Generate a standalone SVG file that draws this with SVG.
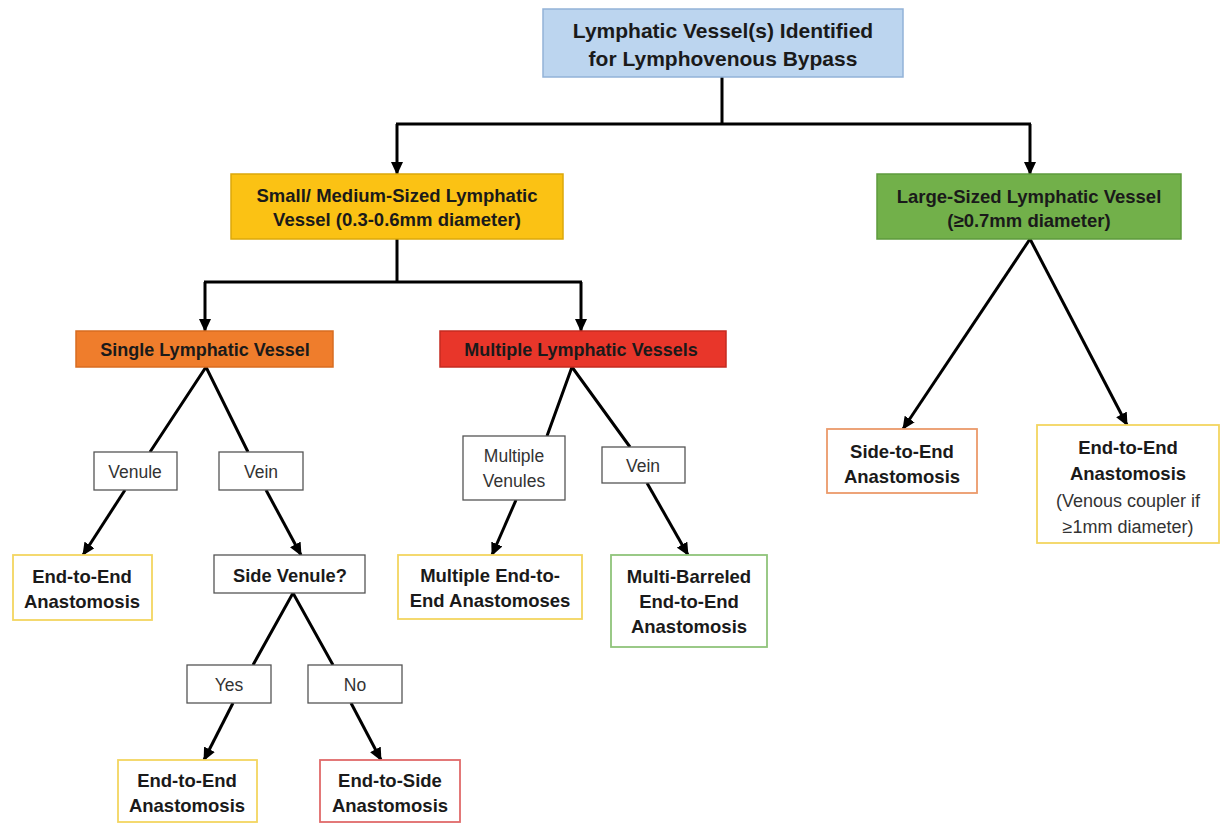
<svg xmlns="http://www.w3.org/2000/svg" width="1221" height="825" viewBox="0 0 1221 825">
<style>
text{font-family:"Liberation Sans",Arial,sans-serif;text-anchor:middle;fill:#1a1a1a}
.b{font-weight:bold}
.lbl{fill:#333}
.line{stroke:#000;stroke-width:3;fill:none}
.arr{marker-end:url(#ah)}
.lb{fill:#fff;stroke:#555;stroke-width:1.3}
</style>
<defs>
<marker id="ah" markerUnits="userSpaceOnUse" markerWidth="13" markerHeight="12" refX="12" refY="6" orient="auto">
<path d="M0,0 L13,6 L0,12 Z" fill="#000"/>
</marker>
</defs>
<rect width="1221" height="825" fill="#fff"/>
<g id="connectors">
<path class="line" d="M722,77 V124 M396,124 H1031"/>
<path class="line arr" d="M397,124 V174"/>
<path class="line arr" d="M1030,124 V174"/>
<path class="line" d="M397,239 V282 M204,282 H582"/>
<path class="line arr" d="M205,282 V331"/>
<path class="line arr" d="M581,282 V331"/>
<path class="line" d="M150,452 L206,367 L248,452"/>
<path class="line arr" d="M125,490 L83,555"/>
<path class="line arr" d="M266,490 L301,555"/>
<path class="line" d="M253,665 L293,593 L333,665"/>
<path class="line arr" d="M233,703 L204,760"/>
<path class="line arr" d="M351,703 L381,760"/>
<path class="line" d="M547,436 L572,367 L630,447"/>
<path class="line arr" d="M516,500 L492,555"/>
<path class="line arr" d="M647,483 L688,555"/>
<path class="line arr" d="M1030,239 L903,429"/>
<path class="line arr" d="M1030,239 L1127,425"/>
</g>
<g id="n-root">
<rect x="543" y="9" width="360" height="68" fill="#bcd5ef" stroke="#92b2d8" stroke-width="1.5"/>
<text class="b" x="723" y="38" font-size="21">Lymphatic Vessel(s) Identified</text>
<text class="b" x="723" y="66" font-size="21">for Lymphovenous Bypass</text>
</g>
<g id="n-small">
<rect x="231" y="174" width="332" height="65" fill="#fbc214" stroke="#dca80a" stroke-width="1.5"/>
<text class="b" x="397" y="202" font-size="18.5">Small/ Medium-Sized Lymphatic</text>
<text class="b" x="397" y="226" font-size="18.5">Vessel (0.3-0.6mm diameter)</text>
</g>
<g id="n-large">
<rect x="877" y="174" width="304" height="65" fill="#72b04a" stroke="#5e9a3c" stroke-width="1.5"/>
<text class="b" x="1029" y="203" font-size="18.5">Large-Sized Lymphatic Vessel</text>
<text class="b" x="1029" y="227" font-size="18.5">(≥0.7mm diameter)</text>
</g>
<g id="n-single">
<rect x="76" y="331" width="257" height="36" fill="#ef7d2c" stroke="#d86c20" stroke-width="1.5"/>
<text class="b" x="205" y="356" font-size="18">Single Lymphatic Vessel</text>
</g>
<g id="n-multiple">
<rect x="440" y="331" width="286" height="36" fill="#e8362a" stroke="#c52b20" stroke-width="1.5"/>
<text class="b" x="581" y="356" font-size="18">Multiple Lymphatic Vessels</text>
</g>
<g id="n-venule">
<rect class="lb" x="94" y="452" width="83" height="38"/>
<text class="lbl" x="135" y="478" font-size="17.5">Venule</text>
</g>
<g id="n-vein1">
<rect class="lb" x="219" y="452" width="84" height="38"/>
<text class="lbl" x="261" y="478" font-size="17.5">Vein</text>
</g>
<g id="n-e2e1">
<rect x="13" y="555" width="139" height="65" fill="#fff" stroke="#f3d560" stroke-width="1.8"/>
<text class="b" x="82" y="583" font-size="18.5">End-to-End</text>
<text class="b" x="82" y="608" font-size="18.5">Anastomosis</text>
</g>
<g id="n-sidevenule">
<rect class="lb" x="214" y="555" width="151" height="38"/>
<text class="b" x="290" y="582" font-size="18.3">Side Venule?</text>
</g>
<g id="n-yes">
<rect class="lb" x="187" y="665" width="84" height="38"/>
<text class="lbl" x="229" y="691" font-size="17.5">Yes</text>
</g>
<g id="n-no">
<rect class="lb" x="308" y="665" width="94" height="38"/>
<text class="lbl" x="355" y="691" font-size="17.5">No</text>
</g>
<g id="n-e2e2">
<rect x="118" y="760" width="139" height="62" fill="#fff" stroke="#f3d560" stroke-width="1.8"/>
<text class="b" x="187" y="787" font-size="18.5">End-to-End</text>
<text class="b" x="187" y="812" font-size="18.5">Anastomosis</text>
</g>
<g id="n-e2s">
<rect x="320" y="760" width="140" height="62" fill="#fff" stroke="#e06a6a" stroke-width="1.8"/>
<text class="b" x="390" y="787" font-size="18.5">End-to-Side</text>
<text class="b" x="390" y="812" font-size="18.5">Anastomosis</text>
</g>
<g id="n-multvenules">
<rect class="lb" x="463" y="436" width="102" height="64"/>
<text class="lbl" x="514" y="462" font-size="17.5">Multiple</text>
<text class="lbl" x="514" y="487" font-size="17.5">Venules</text>
</g>
<g id="n-vein2">
<rect class="lb" x="602" y="447" width="83" height="36"/>
<text class="lbl" x="643" y="472" font-size="17.5">Vein</text>
</g>
<g id="n-multe2e">
<rect x="398" y="555" width="184" height="64" fill="#fff" stroke="#f3d560" stroke-width="1.8"/>
<text class="b" x="490" y="582" font-size="18.5">Multiple End-to-</text>
<text class="b" x="490" y="607" font-size="18.5">End Anastomoses</text>
</g>
<g id="n-multibarrel">
<rect x="611" y="555" width="156" height="92" fill="#fff" stroke="#8fc47a" stroke-width="1.8"/>
<text class="b" x="689" y="583" font-size="18.5">Multi-Barreled</text>
<text class="b" x="689" y="608" font-size="18.5">End-to-End</text>
<text class="b" x="689" y="633" font-size="18.5">Anastomosis</text>
</g>
<g id="n-s2e">
<rect x="827" y="429" width="150" height="64" fill="#fff" stroke="#eb9a6a" stroke-width="1.8"/>
<text class="b" x="902" y="458" font-size="18.5">Side-to-End</text>
<text class="b" x="902" y="483" font-size="18.5">Anastomosis</text>
</g>
<g id="n-e2e3">
<rect x="1037" y="425" width="182" height="118" fill="#fff" stroke="#f3d560" stroke-width="1.8"/>
<text class="b" x="1128" y="454" font-size="18.5">End-to-End</text>
<text class="b" x="1128" y="480" font-size="18.5">Anastomosis</text>
<text class="lbl" x="1128" y="507" font-size="18">(Venous coupler if</text>
<text class="lbl" x="1128" y="533" font-size="18">≥1mm diameter)</text>
</g>
</svg>
